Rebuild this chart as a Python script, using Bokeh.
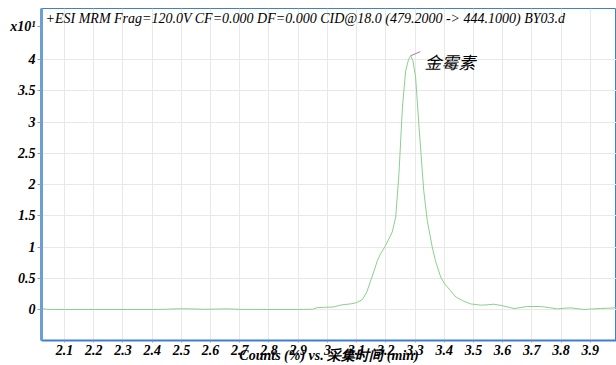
from bokeh.plotting import figure
from bokeh.models import FixedTicker, Label, Range1d, ColumnDataSource
from bokeh.core.properties import value
from bokeh.embed import file_html
from bokeh.resources import INLINE
import numpy as np

# ---- data (retention time in min, counts x10^1) ----
times = [2.021, 2.04, 2.06, 2.10, 2.20, 2.30, 2.40, 2.45, 2.49, 2.53, 2.58, 2.63,
         2.66, 2.70, 2.80, 2.90, 2.95, 2.965, 2.99, 3.02, 3.05, 3.08, 3.10, 3.12,
         3.135, 3.148, 3.16, 3.171, 3.182, 3.20, 3.222, 3.234, 3.245, 3.257, 3.268,
         3.278, 3.285, 3.293, 3.302, 3.313, 3.330, 3.342, 3.359, 3.37, 3.388, 3.40,
         3.422, 3.44, 3.462, 3.49, 3.525, 3.55, 3.57, 3.60, 3.639, 3.66, 3.685,
         3.73, 3.76, 3.787, 3.81, 3.833, 3.878, 3.91, 3.936, 3.99]
counts = [0.015, 0.003, 0.0, 0.0, 0.0, 0.0, 0.0, 0.004, 0.012, 0.01, 0.003, 0.008,
          0.01, 0.002, 0.0, 0.0, 0.005, 0.03, 0.035, 0.04, 0.075, 0.09, 0.11, 0.16,
          0.28, 0.46, 0.62, 0.78, 0.89, 1.03, 1.24, 1.48, 2.17, 3.24, 3.82,
          4.0, 4.06, 3.98, 3.72, 2.97, 1.9, 1.42, 1.0, 0.78, 0.52, 0.42,
          0.30, 0.2, 0.144, 0.09, 0.07, 0.075, 0.085, 0.06, 0.016, 0.03, 0.048,
          0.048, 0.03, 0.01, 0.02, 0.027, 0.0, 0.01, 0.016, 0.027]

x_ticks = [2.1, 2.2, 2.3, 2.4, 2.5, 2.6, 2.7, 2.8, 2.9, 3.0, 3.1, 3.2, 3.3, 3.4,
           3.5, 3.6, 3.7, 3.8, 3.9]
x_labels = ["2.1", "2.2", "2.3", "2.4", "2.5", "2.6", "2.7", "2.8", "2.9", "3",
            "3.1", "3.2", "3.3", "3.4", "3.5", "3.6", "3.7", "3.8", "3.9"]
y_ticks = [0, 0.5, 1, 1.5, 2, 2.5, 3, 3.5, 4]
y_labels = ["0", "0.5", "1", "1.5", "2", "2.5", "3", "3.5", "4"]
scale_label = "x10\u00b9"          # multiplier shown at the top of the y axis
scale_label_at = 4.53              # y position of the multiplier text

title_text = "+ESI MRM Frag=120.0V CF=0.000 DF=0.000 CID@18.0 (479.2000 -> 444.1000) BY03.d"
compound = "金霉素"
x_axis_text = "Counts (%) vs. 采集时间 (min)"

FL, FT, FB_BORDER = 41, 8, 25
FW, FH = 575, 332
X0, X1 = 2.021, 3.990
Y0, Y1 = -0.496, 4.816

p = figure(frame_width=FW, frame_height=FH, output_backend="svg", toolbar_location=None,
           x_range=Range1d(X0, X1), y_range=Range1d(Y0, Y1))
p.min_border_left = FL
p.min_border_right = 0
p.min_border_top = FT
p.min_border_bottom = FB_BORDER
p.background_fill_color = "white"
p.border_fill_color = "white"
p.outline_line_color = "#3f7fcf"
p.outline_line_width = 1

font_serif = "Liberation Serif"
for ax in (p.xaxis[0], p.yaxis[0]):
    ax.major_label_text_font = font_serif
    ax.major_label_text_font_style = "bold italic"
    ax.major_label_text_font_size = "14px"
    ax.major_label_text_color = "black"
    ax.minor_tick_line_color = None
    ax.major_tick_in = 0

p.xaxis.ticker = FixedTicker(ticks=x_ticks)
p.xaxis.major_label_overrides = {t: l for t, l in zip(x_ticks, x_labels)}
p.xaxis.axis_line_color = "#3f7fcf"
p.xaxis.axis_line_width = 2
p.xaxis.major_tick_out = 2
p.xaxis.major_tick_line_color = "#999999"
p.xaxis.major_label_standoff = 2
p.xaxis.axis_label = x_axis_text
p.xaxis.axis_label_text_font = font_serif
p.xaxis.axis_label_text_font_style = "bold italic"
p.xaxis.axis_label_text_font_size = "14px"
p.xaxis.axis_label_text_color = "black"
p.xaxis.axis_label_standoff = -10

y_all = y_ticks + [scale_label_at]
overrides = {t: l for t, l in zip(y_ticks, y_labels)}
overrides[scale_label_at] = scale_label
p.yaxis.ticker = FixedTicker(ticks=y_all)
p.yaxis.major_label_overrides = overrides
p.yaxis.axis_line_color = "#6a9fd8"
p.yaxis.axis_line_width = 3
p.yaxis.major_tick_out = 4
p.yaxis.major_tick_line_color = "#999999"
p.yaxis.major_label_standoff = 2

p.xgrid.ticker = FixedTicker(ticks=x_ticks)
p.ygrid.ticker = FixedTicker(ticks=y_ticks)
p.grid.grid_line_color = "#e8e8e8"
p.grid.grid_line_width = 1

src = ColumnDataSource(dict(t=times, c=counts))
p.line("t", "c", source=src, line_color="#8ccf8c", line_width=1)

# peak marker and compound label, located from the data
i_pk = int(np.argmax(counts))
pk_t, pk_c = times[i_pk], counts[i_pk]
p.segment(x0=[pk_t], y0=[pk_c], x1=[pk_t + 0.033], y1=[pk_c + 0.065],
          line_color="#b070c8", line_width=1)
p.text(x=[pk_t], y=[pk_c], text=[compound], x_offset=14, y_offset=6,
       text_font=value("Noto Sans CJK SC"), text_font_style="italic",
       text_font_size="17px", text_color="black", text_baseline="middle",
       text_align="left")

# chromatogram description inside the frame, top-left
p.add_layout(Label(x=4, y=FH - 10, x_units="screen", y_units="screen",
                   text=title_text, text_font=font_serif, text_font_style="italic",
                   text_font_size="14px", text_color="black",
                   text_baseline="middle", text_align="left"))

open("out.html", "w").write(file_html(p, INLINE))
